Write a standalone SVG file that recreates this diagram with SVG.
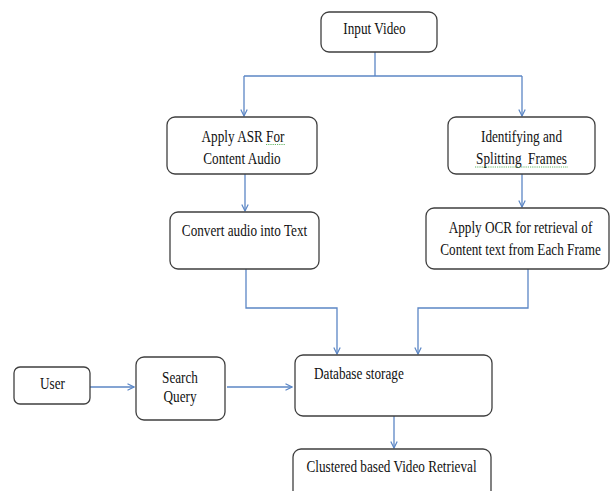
<svg xmlns="http://www.w3.org/2000/svg" width="611" height="491" viewBox="0 0 611 491" font-family="Liberation Serif, Times New Roman, serif">
<style>
.box{fill:#fff;stroke:#3f3f3f;stroke-width:1.3}
.t{font-size:16.5px;fill:#111;white-space:pre}
.c{fill:none;stroke:#5b86c5;stroke-width:1.3}
.sq{fill:none;stroke:#3fa33f;stroke-width:0.8;stroke-dasharray:1.2 1}
</style>
<defs>
<marker id="ah" viewBox="0 0 8 8" refX="7.5" refY="4" markerWidth="8" markerHeight="8" markerUnits="userSpaceOnUse" orient="auto">
<path d="M1,0.8 L7.5,4 L1,7.2" fill="none" stroke="#5b86c5" stroke-width="1.2"/>
</marker>
</defs>
<rect width="611" height="491" fill="#fff"/>
<g id="connectors">
<path class="c" d="M375,52 V76"/>
<path class="c" d="M244,76 H522"/>
<path class="c" d="M244,76 V116" marker-end="url(#ah)"/>
<path class="c" d="M522,76 V116" marker-end="url(#ah)"/>
<path class="c" d="M245,174 V211" marker-end="url(#ah)"/>
<path class="c" d="M522,174 V207" marker-end="url(#ah)"/>
<path class="c" d="M246,269 V308 H337 V354" marker-end="url(#ah)"/>
<path class="c" d="M528,269 V308 H418 V354" marker-end="url(#ah)"/>
<path class="c" d="M90,387 H134" marker-end="url(#ah)"/>
<path class="c" d="M227,387 H292" marker-end="url(#ah)"/>
<path class="c" d="M394,416 V448" marker-end="url(#ah)"/>
</g>
<g id="input-video">
<rect class="box" x="321" y="12" width="116" height="40" rx="8"/>
<text class="t" text-anchor="middle" transform="translate(374.5,34) scale(0.8,1)">Input Video</text>
</g>
<g id="asr">
<rect class="box" x="167" y="117" width="150" height="57" rx="8"/>
<text class="t" text-anchor="middle" transform="translate(243,142) scale(0.8,1)">Apply ASR For</text>
<text class="t" text-anchor="middle" transform="translate(242,164) scale(0.8,1)">Content Audio</text>
<path class="sq" d="M266,144.5 H285"/>
</g>
<g id="frames">
<rect class="box" x="448" y="117" width="147" height="57" rx="8"/>
<text class="t" text-anchor="middle" transform="translate(521.5,142) scale(0.8,1)">Identifying and</text>
<text class="t" text-anchor="middle" transform="translate(521.5,164) scale(0.8,1)">Splitting&#160; Frames</text>
<path class="sq" d="M475,167 H568"/>
</g>
<g id="convert">
<rect class="box" x="170" y="212" width="149" height="57" rx="8"/>
<text class="t" text-anchor="middle" transform="translate(244.5,236) scale(0.8,1)">Convert audio into Text</text>
</g>
<g id="ocr">
<rect class="box" x="426" y="208" width="183" height="61" rx="8"/>
<text class="t" text-anchor="middle" transform="translate(520.5,233) scale(0.8,1)">Apply OCR for retrieval of</text>
<text class="t" text-anchor="middle" transform="translate(520.5,255) scale(0.8,1)">Content text from Each Frame</text>
</g>
<g id="user">
<rect class="box" x="14" y="367" width="76" height="37" rx="6"/>
<text class="t" text-anchor="middle" transform="translate(52.5,389) scale(0.8,1)">User</text>
</g>
<g id="search-query">
<rect class="box" x="136" y="357" width="89" height="63" rx="8"/>
<text class="t" text-anchor="middle" transform="translate(180,383) scale(0.8,1)">Search</text>
<text class="t" text-anchor="middle" transform="translate(180,402) scale(0.8,1)">Query</text>
</g>
<g id="database">
<rect class="box" x="295" y="355" width="197" height="61" rx="8"/>
<text class="t" transform="translate(314,379) scale(0.8,1)">Database storage</text>
</g>
<g id="retrieval">
<rect class="box" x="293" y="449" width="198" height="60" rx="8"/>
<text class="t" text-anchor="middle" transform="translate(391.5,472) scale(0.8,1)">Clustered based Video Retrieval</text>
</g>
</svg>
